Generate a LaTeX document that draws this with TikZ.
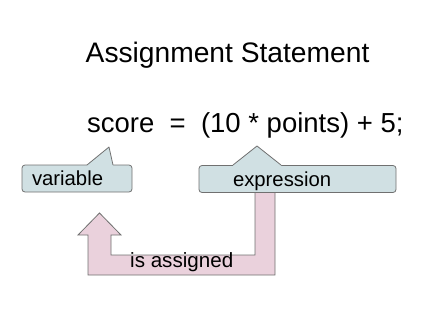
\documentclass[tikz,border=0pt]{standalone}
\usepackage{fontspec}
\setmainfont{Liberation Sans}
\usepackage{xcolor}
\usetikzlibrary{positioning}
\definecolor{boxfill}{RGB}{208,224,227}
\definecolor{arrowfill}{RGB}{234,209,220}
\definecolor{linegray}{RGB}{112,112,112}

\begin{document}
\begin{tikzpicture}[
    x=1pt, y=-1pt,
    bigtext/.style={anchor=base west, inner sep=0pt, font=\fontsize{27.5}{32}\selectfont},
    box/.style={draw=linegray, fill=boxfill, line width=0.8pt, rounded corners=3pt, minimum height=27pt, inner ysep=0pt, text height=14.5pt, text depth=0pt, align=left, font=\fontsize{20.3}{24}\selectfont},
    pointer/.style={draw=linegray, line width=0.8pt, line join=round},
    blockarrow/.style={draw=linegray, fill=arrowfill, line width=0.8pt},
]
    \useasboundingbox (0,0) rectangle (432,314);

    % titles
    \node[bigtext, font=\fontsize{28.2}{32}\selectfont] (title) at (85.5,62.8) {Assignment Statement};
    \node[bigtext] (stmt) at (87,132.5) {score\ \ =\ \ (10 * points) + 5;};

    % bent arrow behind the boxes
    \coordinate (arrowtip) at (99.5,213);
    \draw[blockarrow] (255,190) -- (255,255) -- (111,255) -- (111,235) -- (121,235)
        -- (arrowtip) -- (78,235) -- (88,235) -- (88,275) -- (275,275) -- (275,190) -- cycle;
    \node[anchor=base west, inner sep=0pt, font=\fontsize{20.6}{24}\selectfont] (assigned) at (130,267.5) {is assigned};

    % callout boxes
    \node[box, inner xsep=10pt, text width=90pt] (var) at (77,178.5) {variable};
    \node[box, inner xsep=34pt, text width=129pt] (expr) at (297.5,179) {expression};

    % pointers
    \coordinate (vartip) at (109,147);
    \coordinate (exprtip) at (257,146);
    \fill[boxfill] (87,165) -- (vartip) -- (113,165) -- (113,166.5) -- (87,166.5) -- cycle;
    \draw[pointer] (87,165) -- (vartip) -- (113,165);
    \fill[boxfill] (233,165) -- (exprtip) -- (281,165) -- (281,166.5) -- (233,166.5) -- cycle;
    \draw[pointer] (233,165) -- (exprtip) -- (281,165);
\end{tikzpicture}
\end{document}
